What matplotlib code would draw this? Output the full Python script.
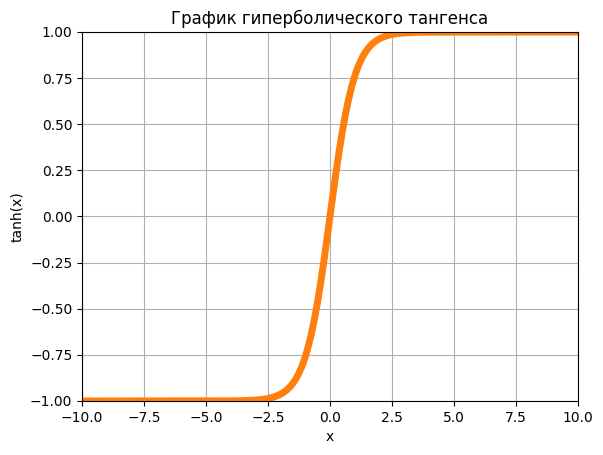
import matplotlib
matplotlib.use('Agg')
import matplotlib.pyplot as plt

# points (right half, mirrored for the left half)
x_right = [0.0, 0.125, 0.25, 0.375, 0.5, 0.625, 0.75, 0.875, 1.0, 1.125, 1.25, 1.375,
           1.5, 1.625, 1.75, 1.875, 2.0, 2.25, 2.5, 2.75, 3.0, 3.5, 4.0, 10.0]
y_right = [0.0, 0.124, 0.245, 0.358, 0.462, 0.555, 0.635, 0.704, 0.762, 0.810, 0.848, 0.880,
           0.905, 0.925, 0.941, 0.954, 0.964, 0.978, 0.987, 0.992, 0.995, 0.998, 0.999, 1.0]

x_vals = [-v for v in x_right[:0:-1]] + x_right
y_vals = [-v for v in y_right[:0:-1]] + y_right

title = 'График гиперболического тангенса'
x_label = 'x'
y_label = 'tanh(x)'

fig = plt.figure(figsize=(6.03, 4.55), dpi=100)
ax = fig.add_subplot(111)
fig.subplots_adjust(left=0.136, right=0.9585, top=0.9297, bottom=0.1187)

ax.plot(x_vals, y_vals, color='#ff7f0e', linewidth=5)
ax.set_xlim(-10, 10)
ax.set_ylim(-1, 1)
ax.set_title(title)
ax.set_xlabel(x_label)
ax.set_ylabel(y_label)
ax.grid(True)

fig.savefig('out.png', dpi=100)
